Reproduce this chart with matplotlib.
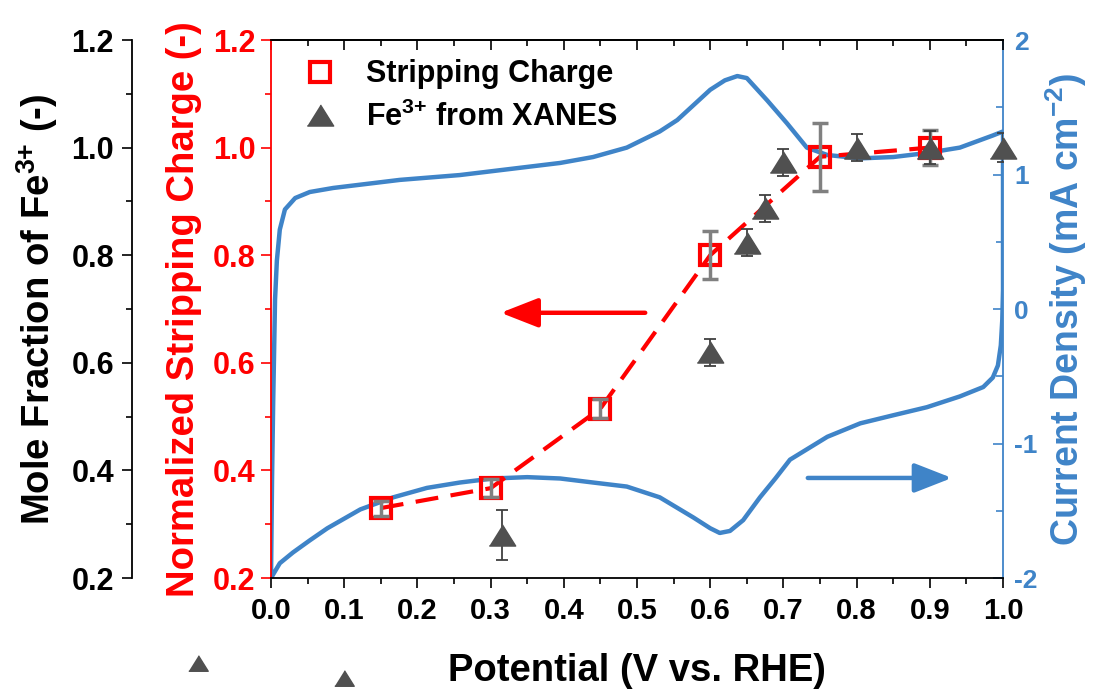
"""Stripping charge + XANES Fe3+ fraction vs potential, overlaid on the CV."""
import matplotlib
matplotlib.use("Agg")
import matplotlib.pyplot as plt
from matplotlib.lines import Line2D
from matplotlib.ticker import MultipleLocator, FormatStrFormatter

plt.rcParams["font.family"] = "Liberation Sans"
plt.rcParams["font.weight"] = "bold"
plt.rcParams["axes.labelweight"] = "bold"
plt.rcParams["axes.unicode_minus"] = False
plt.rcParams["mathtext.fontset"] = "custom"
plt.rcParams["mathtext.rm"] = "Liberation Sans:bold"
plt.rcParams["mathtext.bf"] = "Liberation Sans:bold"
plt.rcParams["mathtext.default"] = "rm"

RED = "#ff0000"
BLUE = "#3f84c8"
GREY = "#505050"

# normalized stripping charge (left red axis)
sc_v = [0.15, 0.30, 0.45, 0.60, 0.75, 0.90]
sc_frac = [0.33, 0.367, 0.515, 0.80, 0.983, 1.00]
sc_err = [0.014, 0.017, 0.017, 0.045, 0.063, 0.033]

# Fe3+ mole fraction from XANES (left black axis)
xa_v = [0.315, 0.60, 0.65, 0.675, 0.70, 0.80, 0.90, 1.00]
xa_frac = [0.28, 0.62, 0.823, 0.887, 0.973, 1.00, 1.00, 1.00]
xa_err = [0.046, 0.025, 0.025, 0.025, 0.025, 0.025, 0.03, 0.027]

# two XANES markers that sit below the axis in the original figure
stray_v = [-0.10, 0.10]
stray_frac = [0.042, 0.014]

# cyclic voltammogram (right blue axis), mA cm-2
cv_v = [0.0, 0.012, 0.03, 0.053, 0.077, 0.122, 0.167, 0.213, 0.258, 0.303,
        0.35, 0.395, 0.44, 0.486, 0.531, 0.577, 0.60, 0.613, 0.627, 0.645,
        0.668, 0.689, 0.709, 0.736, 0.76, 0.805, 0.85, 0.896, 0.941, 0.973,
        0.986, 0.993, 0.997, 0.999, 1.0, 1.0, 1.0,
        0.986, 0.941, 0.896, 0.85, 0.805, 0.76, 0.732, 0.705, 0.678, 0.65,
        0.637, 0.62, 0.60, 0.572, 0.555, 0.531, 0.486, 0.44, 0.395, 0.258,
        0.176, 0.085, 0.053, 0.033, 0.019, 0.012, 0.008, 0.0055, 0.003,
        0.0014, 0.0]
cv_j = [-2.0, -1.89, -1.81, -1.72, -1.63, -1.49, -1.40, -1.33, -1.29, -1.26,
        -1.25, -1.26, -1.29, -1.32, -1.40, -1.55, -1.63, -1.665, -1.65, -1.57,
        -1.40, -1.26, -1.12, -1.03, -0.95, -0.85, -0.79, -0.73, -0.65, -0.58,
        -0.51, -0.42, -0.27, -0.08, 0.14, 0.81, 1.32,
        1.29, 1.20, 1.16, 1.13, 1.12, 1.145, 1.20, 1.38, 1.55, 1.717,
        1.732, 1.70, 1.63, 1.49, 1.405, 1.32, 1.20, 1.13, 1.086, 0.996,
        0.96, 0.90, 0.87, 0.825, 0.74, 0.59, 0.36, 0.07, -0.68,
        -1.27, -2.0]

x_ticks = [0.0, 0.1, 0.2, 0.3, 0.4, 0.5, 0.6, 0.7, 0.8, 0.9, 1.0]

LABEL_SIZE = 27.5
TICK_SIZE = 22

fig = plt.figure(figsize=(10.95, 6.91), dpi=100)
ax = fig.add_axes([0.2475, 0.1635, 0.6685, 0.7786])
ax_cv = ax.twinx()
ax_mf = ax.twinx()
ax.set_zorder(ax_cv.get_zorder() + 1)
ax.patch.set_visible(False)

# CV on the blue axis (behind everything)
ax_cv.plot(cv_v, cv_j, color=BLUE, lw=3.2, solid_joinstyle="round")
ax_cv.set_ylim(-2, 2)
ax_cv.yaxis.set_major_locator(MultipleLocator(1))
ax_cv.yaxis.set_minor_locator(MultipleLocator(0.5))
ax_cv.tick_params(axis="y", which="both", direction="in", colors=BLUE,
                  labelsize=19, width=1.2, pad=8)
ax_cv.tick_params(axis="y", which="major", length=7)
ax_cv.tick_params(axis="y", which="minor", length=5)
for s in ("left", "top", "bottom"):
    ax_cv.spines[s].set_visible(False)
ax_cv.spines["right"].set_color(BLUE)
ax_cv.spines["right"].set_linewidth(1.3)
ax_cv.set_ylabel("Current Density (mA cm$^{-2}$)", color=BLUE,
                 fontsize=27, labelpad=4)

# stripping charge
ax.plot(sc_v, sc_frac, color=RED, lw=3, ls=(0, (5.5, 3)), zorder=2)
ax.plot(sc_v, sc_frac, ls="none", marker="s", ms=15, mfc="none", mec=RED,
        mew=3, zorder=3)
ax.errorbar(sc_v, sc_frac, yerr=sc_err, fmt="none", ecolor="#808080",
            elinewidth=2.5, capsize=5.5, capthick=2.5, zorder=4)

# XANES
tri = [(-1, -0.8), (1, -0.8), (0, 0.8)]
ax.errorbar(xa_v, xa_frac, yerr=xa_err, fmt="none", ecolor="#404040",
            elinewidth=1.3, capsize=4, capthick=1.3, zorder=4)
ax.plot(xa_v, xa_frac, ls="none", marker=tri, ms=19, color=GREY, zorder=5,
        clip_on=False)
ax.plot(stray_v, stray_frac, ls="none", marker=tri, ms=14, color=GREY,
        clip_on=False)

# arrows pointing to the relevant axes
ax.annotate("", xy=(0.31, 0.693), xytext=(0.515, 0.693),
            arrowprops=dict(arrowstyle="-|>,head_length=1.15,head_width=0.45",
                            color=RED, lw=3.2, mutation_scale=20))
ax.annotate("", xy=(0.934, 0.386), xytext=(0.7295, 0.386),
            arrowprops=dict(arrowstyle="-|>,head_length=1.15,head_width=0.45",
                            color=BLUE, lw=3.2, mutation_scale=20))

ax.set_xlim(0, 1.0)
ax.set_ylim(0.2, 1.2)
ax.set_xticks(x_ticks)
ax.xaxis.set_major_formatter(FormatStrFormatter("%.1f"))
ax.xaxis.set_minor_locator(MultipleLocator(0.05))
ax.yaxis.set_major_locator(MultipleLocator(0.2))
ax.yaxis.set_minor_locator(MultipleLocator(0.1))
ax.yaxis.set_major_formatter(FormatStrFormatter("%.1f"))
ax.tick_params(axis="x", which="both", direction="out", labelsize=21,
               width=1.2, pad=7)
ax.tick_params(axis="x", which="major", length=7)
ax.tick_params(axis="x", which="minor", length=4)
ax.tick_params(axis="y", which="both", direction="out", colors=RED,
               labelsize=TICK_SIZE, width=1.2, pad=4)
ax.tick_params(axis="y", which="major", length=7)
ax.tick_params(axis="y", which="minor", length=4)
ax.spines["left"].set_color(RED)
ax.spines["right"].set_visible(False)
for s in ("left", "top", "bottom"):
    ax.spines[s].set_linewidth(1.3)
ax.set_xlabel("Potential (V vs. RHE)", fontsize=LABEL_SIZE, labelpad=20)
ax.set_ylabel("Normalized Stripping Charge (-)", color=RED,
              fontsize=LABEL_SIZE, labelpad=8)

top = ax.secondary_xaxis("top")
top.set_xticks(x_ticks)
top.xaxis.set_minor_locator(MultipleLocator(0.05))
top.tick_params(which="both", direction="in", labeltop=False, width=1.2)
top.tick_params(which="major", length=7)
top.tick_params(which="minor", length=4)
top.spines["top"].set_linewidth(1.3)

# black mole-fraction axis, pushed out to the far left
ax_mf.set_ylim(0.2, 1.2)
ax_mf.yaxis.tick_left()
ax_mf.yaxis.set_label_position("left")
ax_mf.spines["left"].set_position(("outward", 100))
for s in ("right", "top", "bottom"):
    ax_mf.spines[s].set_visible(False)
ax_mf.spines["left"].set_linewidth(1.3)
ax_mf.yaxis.set_major_locator(MultipleLocator(0.2))
ax_mf.yaxis.set_minor_locator(MultipleLocator(0.1))
ax_mf.yaxis.set_major_formatter(FormatStrFormatter("%.1f"))
ax_mf.tick_params(axis="y", which="both", direction="out",
                  labelsize=TICK_SIZE, width=1.2, pad=6)
ax_mf.tick_params(axis="y", which="major", length=7)
ax_mf.tick_params(axis="y", which="minor", length=4)
ax_mf.set_ylabel("Mole Fraction of Fe$^{3{+}}$ (-)", fontsize=LABEL_SIZE,
                 labelpad=8)

handles = [
    Line2D([], [], ls="none", marker="s", ms=15, mfc="none", mec=RED, mew=3),
    Line2D([], [], ls="none", marker=tri, ms=19, color=GREY),
]
ax.legend(handles, ["Stripping Charge", "Fe$^{3{+}}$ from XANES"],
          loc="upper left", bbox_to_anchor=(-0.012, 1.015), frameon=False,
          fontsize=22, handletextpad=0.5, labelspacing=0.4)

fig.savefig("out.png", dpi=100)
